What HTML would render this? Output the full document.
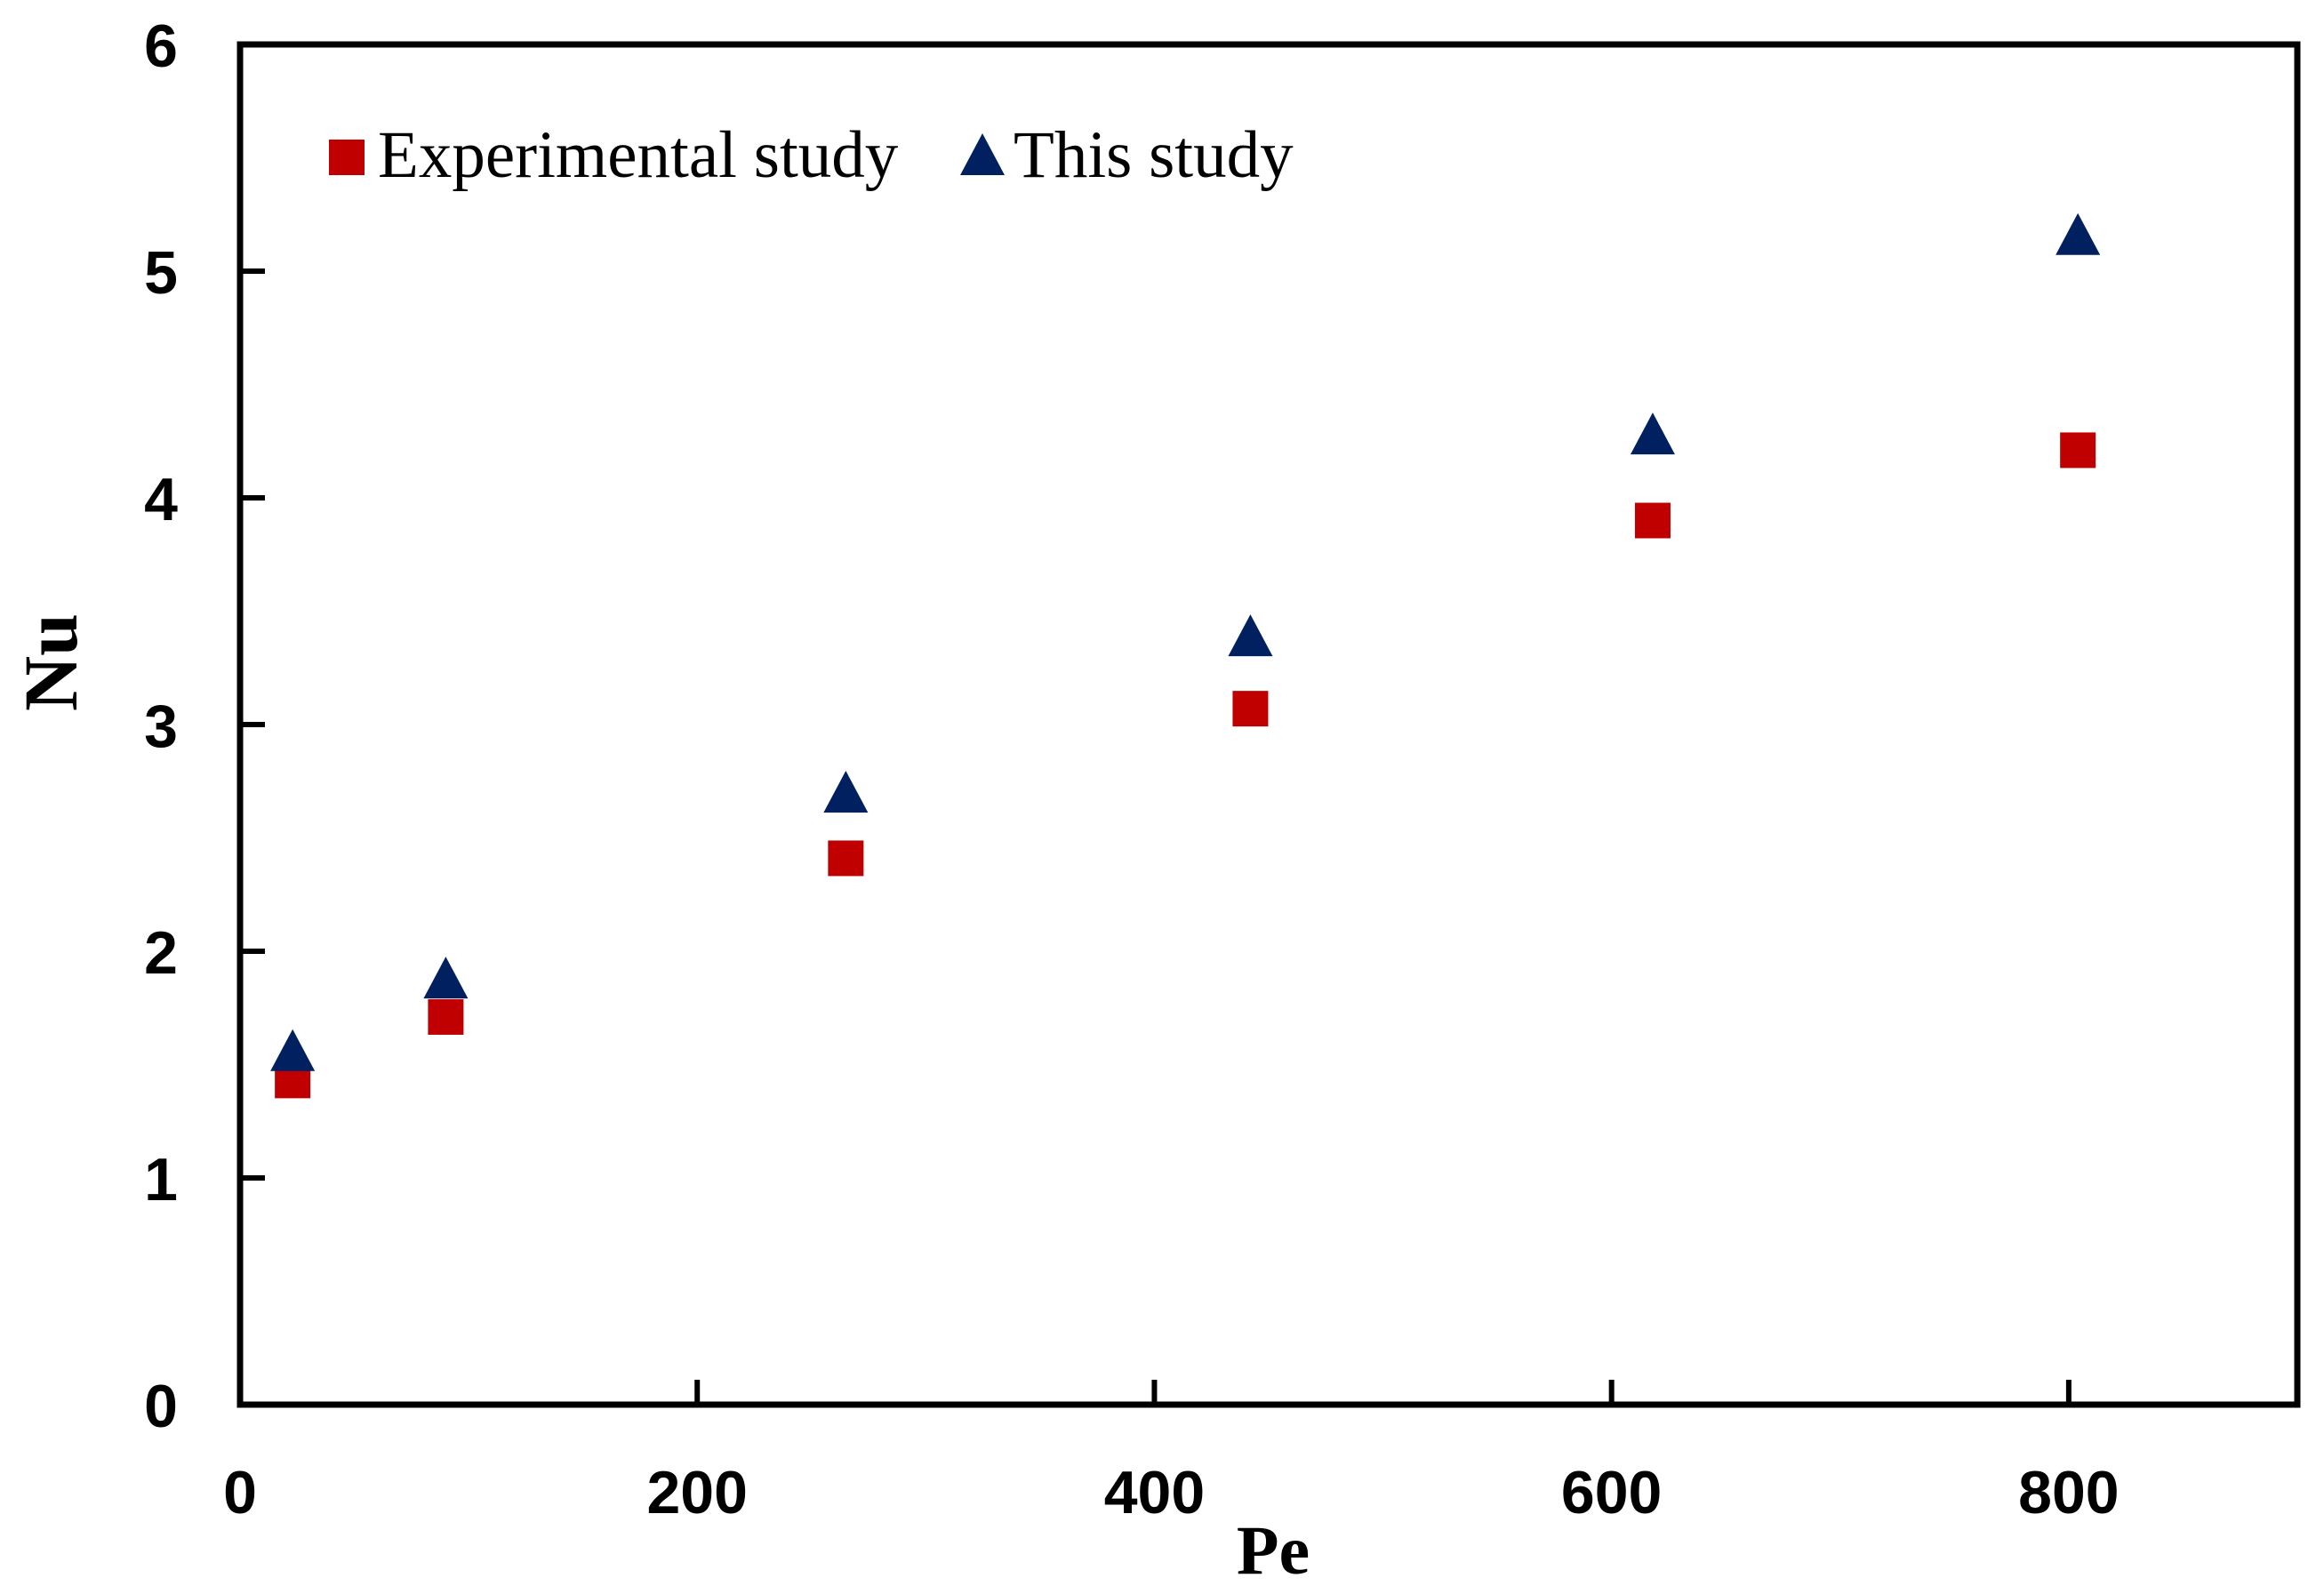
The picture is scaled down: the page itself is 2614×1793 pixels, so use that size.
<!DOCTYPE html>
<html><head><meta charset="utf-8"><style>body{margin:0;background:#fff}svg{display:block}</style></head>
<body>
<svg id="chart" width="2614" height="1793" viewBox="0 0 2614 1793" xmlns="http://www.w3.org/2000/svg"></svg>
<script>
const pe = [23, 90, 265, 442, 618, 804];
const nuExperimental = [1.43, 1.71, 2.41, 3.07, 3.90, 4.21];
const nuThisStudy = [1.55, 1.87, 2.69, 3.38, 4.27, 5.15];
const xTicks = [0, 200, 400, 600, 800];
const yTicks = [0, 1, 2, 3, 4, 5, 6];

const L = 270, R = 2584, T = 50, B = 1580;
const xMax = 900, yMax = 6;
const sx = v => L + v / xMax * (R - L);
const sy = v => B - v / yMax * (B - T);
const svg = document.getElementById('chart');
const NS = 'http://www.w3.org/2000/svg';
function mk(tag, attrs, parent) {
  const e = document.createElementNS(NS, tag);
  for (const k in attrs) e.setAttribute(k, attrs[k]);
  (parent || svg).appendChild(e);
  return e;
}
const frame = mk('rect', {x: L, y: T, width: R - L, height: B - T, fill: 'none', stroke: '#000', 'stroke-width': 7});



xTicks.forEach(v => {
  const t = mk('line', {x1: sx(v), x2: sx(v), y1: B, y2: B - 28, stroke: '#000', 'stroke-width': 6});
  
  
  const lb = mk('text', {x: sx(v), y: B + 122, 'text-anchor': 'middle', 'font-family': 'Liberation Sans, sans-serif', 'font-weight': 'bold', 'font-size': 68});
  lb.textContent = v;
  
  
});
yTicks.forEach(v => {
  const t = mk('line', {x1: L, x2: L + 28, y1: sy(v), y2: sy(v), stroke: '#000', 'stroke-width': 6});
  
  
  const lb = mk('text', {x: L - 70, y: sy(v) + 25, 'text-anchor': 'end', 'font-family': 'Liberation Sans, sans-serif', 'font-weight': 'bold', 'font-size': 68});
  lb.textContent = v;
  
  
});
const xt = mk('text', {x: (L + R) / 2 + 5, y: 1770, 'text-anchor': 'middle', 'font-family': 'Liberation Serif, serif', 'font-weight': 'bold', 'font-size': 78});
xt.textContent = 'Pe';


const yt = mk('text', {x: 0, y: 0, transform: 'translate(86,745) rotate(-90)', 'text-anchor': 'middle', 'font-family': 'Liberation Serif, serif', 'font-weight': 'bold', 'font-size': 86});
yt.textContent = 'Nu';



const S = 40;
pe.forEach((p, i) => {
  const m = mk('rect', {x: sx(p) - S / 2, y: sy(nuExperimental[i]) - S / 2, width: S, height: S, fill: '#c00000'});
  
  
});
pe.forEach((p, i) => {
  const cx = sx(p), cy = sy(nuThisStudy[i]);
  const m = mk('polygon', {points: `${cx},${cy - 27} ${cx - 25},${cy + 20} ${cx + 25},${cy + 20}`, fill: '#002060'});
  
  
});

const lg = mk('g', {});


const ls = mk('rect', {x: 370, y: 157, width: 40, height: 40, fill: '#c00000'}, lg);


const lt1 = mk('text', {x: 425, y: 199, 'font-family': 'Liberation Serif, serif', 'font-size': 75}, lg);
lt1.textContent = 'Experimental study';


const lp = mk('polygon', {points: '1105,150 1080,197 1130,197', fill: '#002060'}, lg);


const lt2 = mk('text', {x: 1140, y: 199, 'font-family': 'Liberation Serif, serif', 'font-size': 75}, lg);
lt2.textContent = 'This study';


</script>
</body></html>
